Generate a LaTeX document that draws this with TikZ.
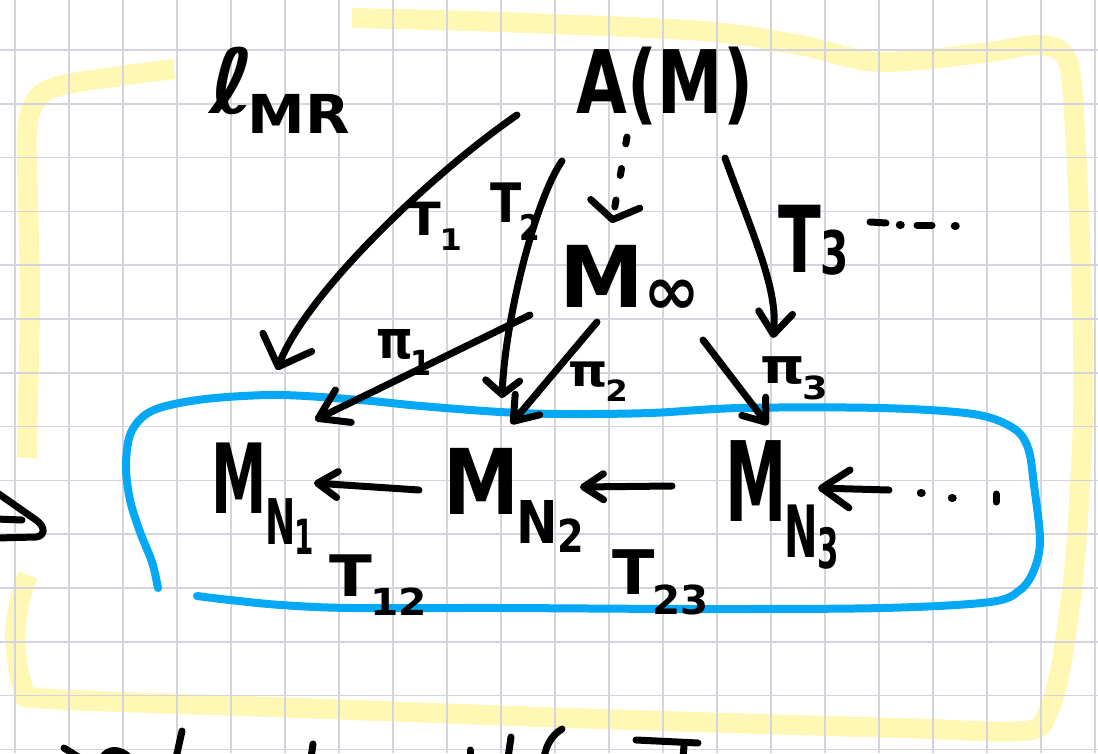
\documentclass[tikz,border=0pt]{standalone}
\usepackage{fontspec}
\setmainfont{DejaVu Sans}
\usepackage{graphicx}
\usetikzlibrary{arrows.meta}
\definecolor{gridc}{HTML}{D5D4DE}
\definecolor{hlc}{HTML}{FFF7B4}
\definecolor{loopc}{HTML}{05A8F4}
\newcommand\Sb[1]{\kern-0.04em\raisebox{-0.32em}{\fontsize{6.5}{7}\selectfont #1}}
\newcommand\SSb[1]{\kern-0.02em\raisebox{-0.15em}{\fontsize{5}{5}\selectfont #1}}
\newcommand\Fit[3]{\resizebox*{#1pt}{#2pt}{\bfseries #3}}
\begin{document}
\begin{tikzpicture}[x=1pt,y=-1pt,
  ink/.style={line width=7pt,line cap=round,line join=round,draw=black},
  dotink/.style={line width=8.5pt,line cap=round,draw=black},
  arr/.style 2 args={ink,-{Straight Barb[length=#1pt,width=#2pt,line cap=round,line join=round]}},
  lab/.style={inner sep=0pt,outer sep=0pt,anchor=center,text=black},
  hl/.style={draw=hlc,line width=20pt,line cap=butt,line join=round},
  gline/.style={draw=gridc,line width=1.5pt},
  loop/.style={draw=loopc,line width=8pt,line cap=round,line join=round}]
\useasboundingbox (0,0) rectangle (1098,753);
\fill[white] (0,0) rectangle (1098,753);
% highlighter frame
\draw[hl] plot[smooth,tension=0.5] coordinates {(174,69) (120,76) (58,86) (36,100) (27,130) (28,200) (30,300) (28,400) (27,458)};
\draw[hl] plot[smooth,tension=0.5] coordinates {(352,18) (500,22) (702,31) (800,45) (878,62) (983,53) (1040,45) (1068,62) (1076,150) (1082,300) (1083,420) (1075,560) (1062,660) (1048,712) (1025,731) (900,728) (600,719) (300,708) (50,699) (24,690) (15,640) (20,600) (28,575)};
% grid
\foreach \i in {0,...,20} \draw[gline] ({15+54*\i},0) -- ({15+54*\i},753);
\foreach \j in {0,...,13} \draw[gline] (0,{50+53.8*\j}) -- (1098,{50+53.8*\j});
% blue loop
\draw[loop] plot[smooth,tension=0.55] coordinates {(158,588) (152,562) (140,532) (130,500) (126,467) (130,435) (145,415) (170,405) (215,398) (281,395) (360,400) (421,406) (500,412) (562,414) (650,413) (740,408) (880,408) (973,414) (1013,428) (1028,448) (1034,485) (1040,540) (1034,570) (1020,590) (990,602) (883,608) (700,609) (500,608) (351,608) (281,605) (230,600) (197,596)};
% labels
\node[lab] (emr) at (280,90) {\Fit{140}{86}{ℓ\kern-0.08em\raisebox{-0.22em}{\fontsize{6}{7}\selectfont MR}}};
\node[lab] (AM) at (665,86) {\Fit{176}{78}{A(M)}};
\node[lab] (T1) at (435,226) {\Fit{54}{48}{T\Sb{1}}};
\node[lab] (T2) at (515,211.5) {\Fit{50}{57}{T\Sb{2}}};
\node[lab] (Minf) at (630,279.5) {\Fit{140}{69}{M\kern-0.02em\raisebox{-0.08em}{\fontsize{8}{9}\selectfont ∞}}};
\node[lab] (T3) at (813.5,240) {\Fit{71}{70}{T\raisebox{-0.02em}{\fontsize{6.5}{7}\selectfont 3}}};
\node[lab] (p1) at (404,352) {\Fit{56}{46}{π\Sb{1}}};
\node[lab] (p2) at (598,381.5) {\Fit{60}{39}{π\Sb{2}}};
\node[lab] (p3) at (794,378.5) {\Fit{68}{43}{π\Sb{3}}};
\node[lab] (MN1) at (263,498.5) {\Fit{102}{111}{M\Sb{N\SSb{1}}}};
\node[lab] (MN2) at (514,500) {\Fit{140}{104}{M\Sb{N\SSb{2}}}};
\node[lab] (MN3) at (782.5,505) {\Fit{113}{128}{M\Sb{N\SSb{3}}}};
\node[lab] (T12) at (378.5,585) {\Fit{97}{60}{T\Sb{12}}};
\node[lab] (T23) at (661,582.5) {\Fit{96}{65}{T\Sb{23}}};
% connector end points
\coordinate (t1s) at (517,115); \coordinate (t1e) at (277,370);
\coordinate (t2s) at (562,161); \coordinate (t2e) at (502,398);
\coordinate (t3s) at (725,158); \coordinate (t3e) at (773,338);
\coordinate (p1s) at (530,315); \coordinate (p1e) at (315,420);
\coordinate (p2s) at (597,322); \coordinate (p2e) at (511,424);
\coordinate (p3s) at (703,340); \coordinate (p3e) at (768,425);
\coordinate (ds) at (627,137); \coordinate (de) at (612,223);
\coordinate (h1s) at (419,490); \coordinate (h1e) at (314,483);
\coordinate (h2s) at (672,486); \coordinate (h2e) at (580,487);
\coordinate (h3s) at (889,490); \coordinate (h3e) at (818,488);
% connectors
\draw[arr={26}{52}] (t1s) .. controls (430,175) and (305,295) .. (t1e);
\draw[arr={14}{34}] (t2s) .. controls (535,200) and (505,320) .. (t2e);
\draw[arr={22}{34}] (t3s) .. controls (755,240) and (778,290) .. (t3e);
\draw[arr={28}{36}] (p1s) -- (p1e);
\draw[arr={22}{32}] (p2s) -- (p2e);
\draw[arr={20}{30}] (p3s) -- (p3e);
\draw[arr={16}{50},dash pattern=on 7pt off 25pt] (ds) -- (de);
\draw[arr={20}{26}] (h1s) -- (h1e);
\draw[arr={20}{26}] (h2s) -- (h2e);
\draw[arr={28}{38}] (h3s) -- (h3e);
% dots
\draw[ink] (870,222) -- (886,223);
\draw[dotink] (900,225) -- (900.5,225);
\draw[ink] (917,225) -- (932,225);
\draw[dotink] (955,226) -- (955.5,226);
\draw[dotink] (921,493) -- (921.5,493);
\draw[dotink] (952,498) -- (952.5,498);
\draw[ink] (996,494) -- (996,502);
% left edge fragment
\draw[ink] (-4,492) -- (36,520) .. controls (46,527) and (45,536) .. (36,537) -- (-4,538);
\draw[ink] (-4,519) -- (22,520);
% bottom edge fragments
\draw[ink] (64,748) -- (80,758);
\draw[ink] (102,758) .. controls (108,748) and (120,748) .. (130,758);
\draw[ink] (182,731) -- (176,758);
\draw[ink] (313,744) -- (311,758);
\draw[ink] (470,750) -- (470,758);
\draw[ink] (511,737) -- (508,758);
\draw[ink] (562,729) .. controls (552,735) and (546,745) .. (544,758);
\draw[ink] (636,740) -- (698,743);
\draw[ink] (684,746) -- (683,758);
\end{tikzpicture}
\end{document}
